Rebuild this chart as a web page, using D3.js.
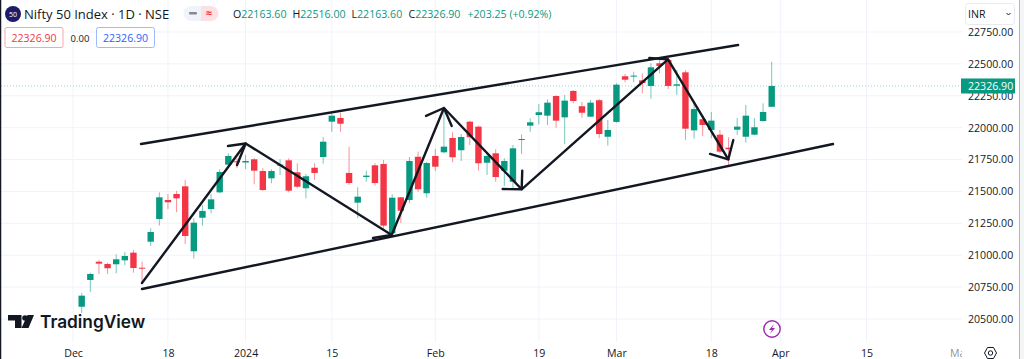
<!DOCTYPE html>
<html>
<head>
<meta charset="utf-8">
<script src="https://cdn.jsdelivr.net/npm/d3@7"></script>
<style>
  html, body { margin: 0; padding: 0; background: #fff; }
  svg { display: block; }
  text { font-family: "Open Sans", sans-serif; }
</style>
</head>
<body>
<script>
// candles, oldest first
let opens = [20596,20806,20949,20931,20929,20960,21020,20902,21106,21284,21433,21480,21540,21031,21294,21362,21493,21710,21736,21727,21752,21660,21603,21703,21744,21650,21525,21686,21770,22047,22076,21645,21412,21613,21705,21715,21172,21454,21433,21772,21486,21778,21807,21919,21823,22047,22008,21725,21799,21663,21576,21906,22016,22099,22094,22248,22081,22288,22168,22086,22215,21929,22045,22403,22403,22371,22327,22505,22531,22329,22434,21979,22066,21982,21945,21843,21984,21929,21945,22052,22163.6];
let highs = [20704,20863,20963,20941,21007,21025,21041,20949,21211,21493,21480,21504,21590,21290,21394,21480,21674,21799,21760,21786,21760,21682,21674,21752,21760,21721,21637,21721,21925,22113,22117,21851,21533,21663,21721,21747,21478,21457,21770,21812,21733,21833,22144,21964,21950,22055,22016,21794,21831,21760,21864,21948,22074,22186,22222,22254,22256,22295,22201,22217,22225,22060,22348,22421,22439,22426,22505,22531,22544,22452,22452,22191,22099,22123,21982,21925,22076,22178,22074,22191,22516];
let lows = [20547,20712,20853,20853,20858,20923,20863,20774,21072,21232,21362,21337,21088,20973,21232,21329,21486,21694,21682,21676,21556,21506,21564,21629,21493,21525,21446,21590,21718,21968,21968,21551,21290,21576,21545,21198,21159,21253,21409,21498,21451,21660,21799,21729,21739,21864,21663,21629,21576,21543,21527,21794,21968,22026,22021,22000,21872,22191,22078,22084,21917,21859,22039,22356,22356,22270,22227,22426,22303,22256,21903,21914,21935,21917,21799,21707,21943,21882,21940,22047,22163.6];
let closes = [20683,20853,20934,20898,20968,20994,20900,20896,21182,21454,21415,21446,21151,21255,21347,21438,21653,21778,21729,21739,21663,21511,21660,21710,21506,21537,21619,21645,21890,22094,22031,21566,21459,21624,21566,21232,21451,21349,21739,21517,21723,21694,21851,21768,21927,21925,21721,21778,21613,21739,21838,21911,22042,22121,22196,22055,22212,22209,22117,22196,21950,21982,22337,22376,22408,22350,22473,22484,22327,22340,21992,22146,22021,22055,21812,21831,22008,22094,22003,22123,22326.9];

// axis labels
let timeLabels = ["Dec","18","2024","15","Feb","19","Mar","18","Apr","15","Ma"];
let timeTicks = [-1,10,19,29,41,53,62,73,81,91,101.5];
let priceTicks = [20500,20750,21000,21250,21500,21750,22000,22250,22500,22750];
let lastPrice = 22326.90;

// hand drawn trend lines, [bar index, price]
let channelTop = [[6.88,21872],[76.1,22648]];
let channelBottom = [[6.99,20735],[87.11,21872]];
let zigzag = [[6.99,20782],[19.01,21876],[35.94,21159],[42,22154],[51.01,21517],[67.98,22535],[74.97,21752]];
let arrowHeads = [
  [[16.96,21856],[19.01,21876],[18.01,21707]],
  [[33.77,21135],[35.94,21159]],
  [[39.92,22092],[42,22154],[42.9,22013]],
  [[48.81,21519],[51.01,21517],[51.08,21663]],
  [[65.81,22546],[67.98,22535]],
  [[72.85,21794],[74.97,21752],[75.55,21903]]
];

let width = 1024, height = 359;
let paneRight = 962, paneBottom = 342;
let up = "#089981", down = "#f23645", ink = "#131722";

let x = d3.scaleLinear().domain([0, 80]).range([81.7, 771.7]);
let y = d3.scaleLinear().domain([20500, 22750]).range([319, 32]);

let svg = d3.select("body").append("svg").attr("width", width).attr("height", height);

// grid
svg.selectAll(".vgrid").data(timeTicks.slice(0, -1)).enter().append("line")
  .attr("x1", d => x(d)).attr("x2", d => x(d))
  .attr("y1", 0).attr("y2", paneBottom)
  .attr("stroke", "#f0f3fa");
svg.selectAll(".hgrid").data(priceTicks).enter().append("line")
  .attr("x1", 1).attr("x2", paneRight)
  .attr("y1", d => y(d)).attr("y2", d => y(d))
  .attr("stroke", "#f0f3fa");

// last price line
svg.append("line")
  .attr("x1", 1).attr("x2", paneRight)
  .attr("y1", y(lastPrice)).attr("y2", y(lastPrice))
  .attr("stroke", up).attr("stroke-opacity", 0.4)
  .attr("stroke-dasharray", "1 2");

// candles
let candles = svg.selectAll(".candle").data(opens).enter().append("g").attr("class", "candle");
candles.append("line")
  .attr("x1", (d, i) => x(i)).attr("x2", (d, i) => x(i))
  .attr("y1", (d, i) => y(highs[i])).attr("y2", (d, i) => y(lows[i]))
  .attr("stroke", (d, i) => closes[i] >= d ? up : down)
  .attr("stroke-opacity", 0.55);
candles.append("rect")
  .attr("x", (d, i) => x(i) - 3.2).attr("width", 6.4)
  .attr("y", (d, i) => y(Math.max(d, closes[i])))
  .attr("height", (d, i) => Math.max(1, Math.abs(y(d) - y(closes[i]))))
  .attr("fill", (d, i) => closes[i] >= d ? up : down);

// drawings
let trend = d3.line().x(d => x(d[0])).y(d => y(d[1]));
[channelTop, channelBottom, zigzag].concat(arrowHeads).forEach(function(pts){
  svg.append("path")
    .attr("d", trend(pts))
    .attr("fill", "none")
    .attr("stroke", ink)
    .attr("stroke-width", 2.4)
    .attr("stroke-linecap", "round")
    .attr("stroke-linejoin", "round");
});

// price axis
let yAxis = d3.axisRight(y).tickValues(priceTicks).tickSize(0).tickPadding(0).tickFormat(d3.format(".2f"));
let yg = svg.append("g").attr("transform", "translate(968,0)").call(yAxis);
yg.select(".domain").remove();
yg.selectAll("text").attr("font-size", 10.6).attr("fill", "#131722").attr("font-family", '"Open Sans", sans-serif');

// time axis, the last label is cut off at the pane edge
svg.append("clipPath").attr("id", "timeClip").append("rect").attr("width", 962).attr("height", height);
let xAxis = d3.axisBottom(x).tickValues(timeTicks).tickSize(0).tickPadding(0)
  .tickFormat((d, i) => timeLabels[i]);
let xg = svg.append("g").attr("clip-path", "url(#timeClip)").append("g").attr("transform", "translate(0,349)").call(xAxis);
xg.select(".domain").remove();
xg.selectAll("text").attr("font-size", 10.6).attr("fill", "#131722").attr("font-family", '"Open Sans", sans-serif');
xg.selectAll("text").filter((d, i) => i == timeLabels.length - 1).attr("fill-opacity", 0.5);

// last price tag
svg.append("rect").attr("x", 961).attr("y", y(lastPrice) - 7.5).attr("width", 54).attr("height", 15).attr("fill", up);
svg.append("text").attr("x", 968).attr("y", y(lastPrice) + 3.8)
  .attr("font-size", 10.6).attr("fill", "#fff").text(d3.format(".2f")(lastPrice));

// currency box
svg.append("rect").attr("x", 965.5).attr("y", 3.5).attr("width", 49).attr("height", 21).attr("rx", 3)
  .attr("fill", "#fff").attr("stroke", "#e8eaf0");
svg.append("text").attr("x", 968).attr("y", 18).attr("font-size", 10.6).attr("fill", "#131722").text("INR");
svg.append("path").attr("d", "M1006.5 13l2 2l2 -2").attr("fill", "none").attr("stroke", "#131722").attr("stroke-width", 1);

// frame
svg.append("line").attr("x1", 0.5).attr("x2", 0.5).attr("y1", 0).attr("y2", height).attr("stroke", ink).attr("stroke-width", 1.5);
svg.append("line").attr("x1", 1019.5).attr("x2", 1019.5).attr("y1", 0).attr("y2", height).attr("stroke", "#b2b5be");
svg.append("rect").attr("x", 1020).attr("y", 0).attr("width", 4).attr("height", height).attr("fill", "#f4f5f7");

// header
svg.append("circle").attr("cx", 13).attr("cy", 14).attr("r", 8).attr("fill", "#1c1c6b");
svg.append("text").attr("x", 13).attr("y", 16.5).attr("text-anchor", "middle").attr("font-size", 7).attr("fill", "#fff").text("50");
svg.append("text").attr("x", 24).attr("y", 19).attr("font-size", 13).attr("fill", "#131722").text("Nifty 50 Index · 1D · NSE");

svg.append("path").attr("d", "M201 6h-10a7.5 7.5 0 0 0 0 15h10z").attr("fill", "#f0f3fa");
svg.append("path").attr("d", "M201 6h10a7.5 7.5 0 0 1 0 15h-10z").attr("fill", "#fde0e4");
svg.append("rect").attr("x", 189).attr("y", 12).attr("width", 8).attr("height", 2.4).attr("rx", 1).attr("fill", "#868993");
svg.append("text").attr("x", 209).attr("y", 17).attr("text-anchor", "middle").attr("font-size", 11).attr("font-weight", 700).attr("fill", down).text("≈");

let legendNames = ["O","H","L","C"];
let legendValues = ["22163.60","22516.00","22163.60","22326.90"];
let legendX = [233,292.5,351.5,408.5];
legendNames.forEach(function(n, i){
  let t = svg.append("text").attr("x", legendX[i]).attr("y", 18).attr("font-size", 10.6);
  t.append("tspan").attr("fill", "#131722").text(n);
  t.append("tspan").attr("fill", up).text(legendValues[i]);
});
svg.append("text").attr("x", 467.5).attr("y", 18).attr("font-size", 10.6).attr("fill", up).text("+203.25 (+0.92%)");

// buy / sell boxes
svg.append("rect").attr("x", 5).attr("y", 27.5).attr("width", 58).attr("height", 20).attr("rx", 2).attr("fill", "#fff").attr("stroke", "#f7a6ae");
svg.append("text").attr("x", 34).attr("y", 42).attr("text-anchor", "middle").attr("font-size", 10.6).attr("fill", down).text("22326.90");
svg.append("text").attr("x", 80).attr("y", 42).attr("text-anchor", "middle").attr("font-size", 9.5).attr("fill", "#131722").text("0.00");
svg.append("rect").attr("x", 96.5).attr("y", 27.5).attr("width", 58).attr("height", 20).attr("rx", 2).attr("fill", "#fff").attr("stroke", "#9db8ff");
svg.append("text").attr("x", 125.5).attr("y", 42).attr("text-anchor", "middle").attr("font-size", 10.6).attr("fill", "#2962ff").text("22326.90");

// TradingView logo
svg.append("path").attr("d", "M8 315h13.5v13h-6.5v-7.5h-7z").attr("fill", ink);
svg.append("circle").attr("cx", 25).attr("cy", 318).attr("r", 2.8).attr("fill", ink);
svg.append("path").attr("d", "M27.5 315h6.5l-5.5 13h-7z").attr("fill", ink);
svg.append("text").attr("x", 40).attr("y", 327.5).attr("font-size", 17.3).attr("font-weight", 600)
  .style("font-family", "Inter, sans-serif").attr("fill", ink).text("TradingView");

// purple marker and settings icon
svg.append("circle").attr("cx", 772).attr("cy", 329).attr("r", 8.2).attr("fill", "#fff").attr("stroke", "#9c27b0").attr("stroke-width", 1.4);
svg.append("path").attr("d", "M774 324l-5 6h3l-2 4l5 -6h-3z").attr("fill", "#9c27b0");
svg.append("path").attr("d", "M984.5 353l3 -5.5h6l3 5.5l-3 5.5h-6z").attr("fill", "none").attr("stroke", ink);
svg.append("circle").attr("cx", 990.5).attr("cy", 353).attr("r", 2.2).attr("fill", "none").attr("stroke", ink);
</script>
</body>
</html>
